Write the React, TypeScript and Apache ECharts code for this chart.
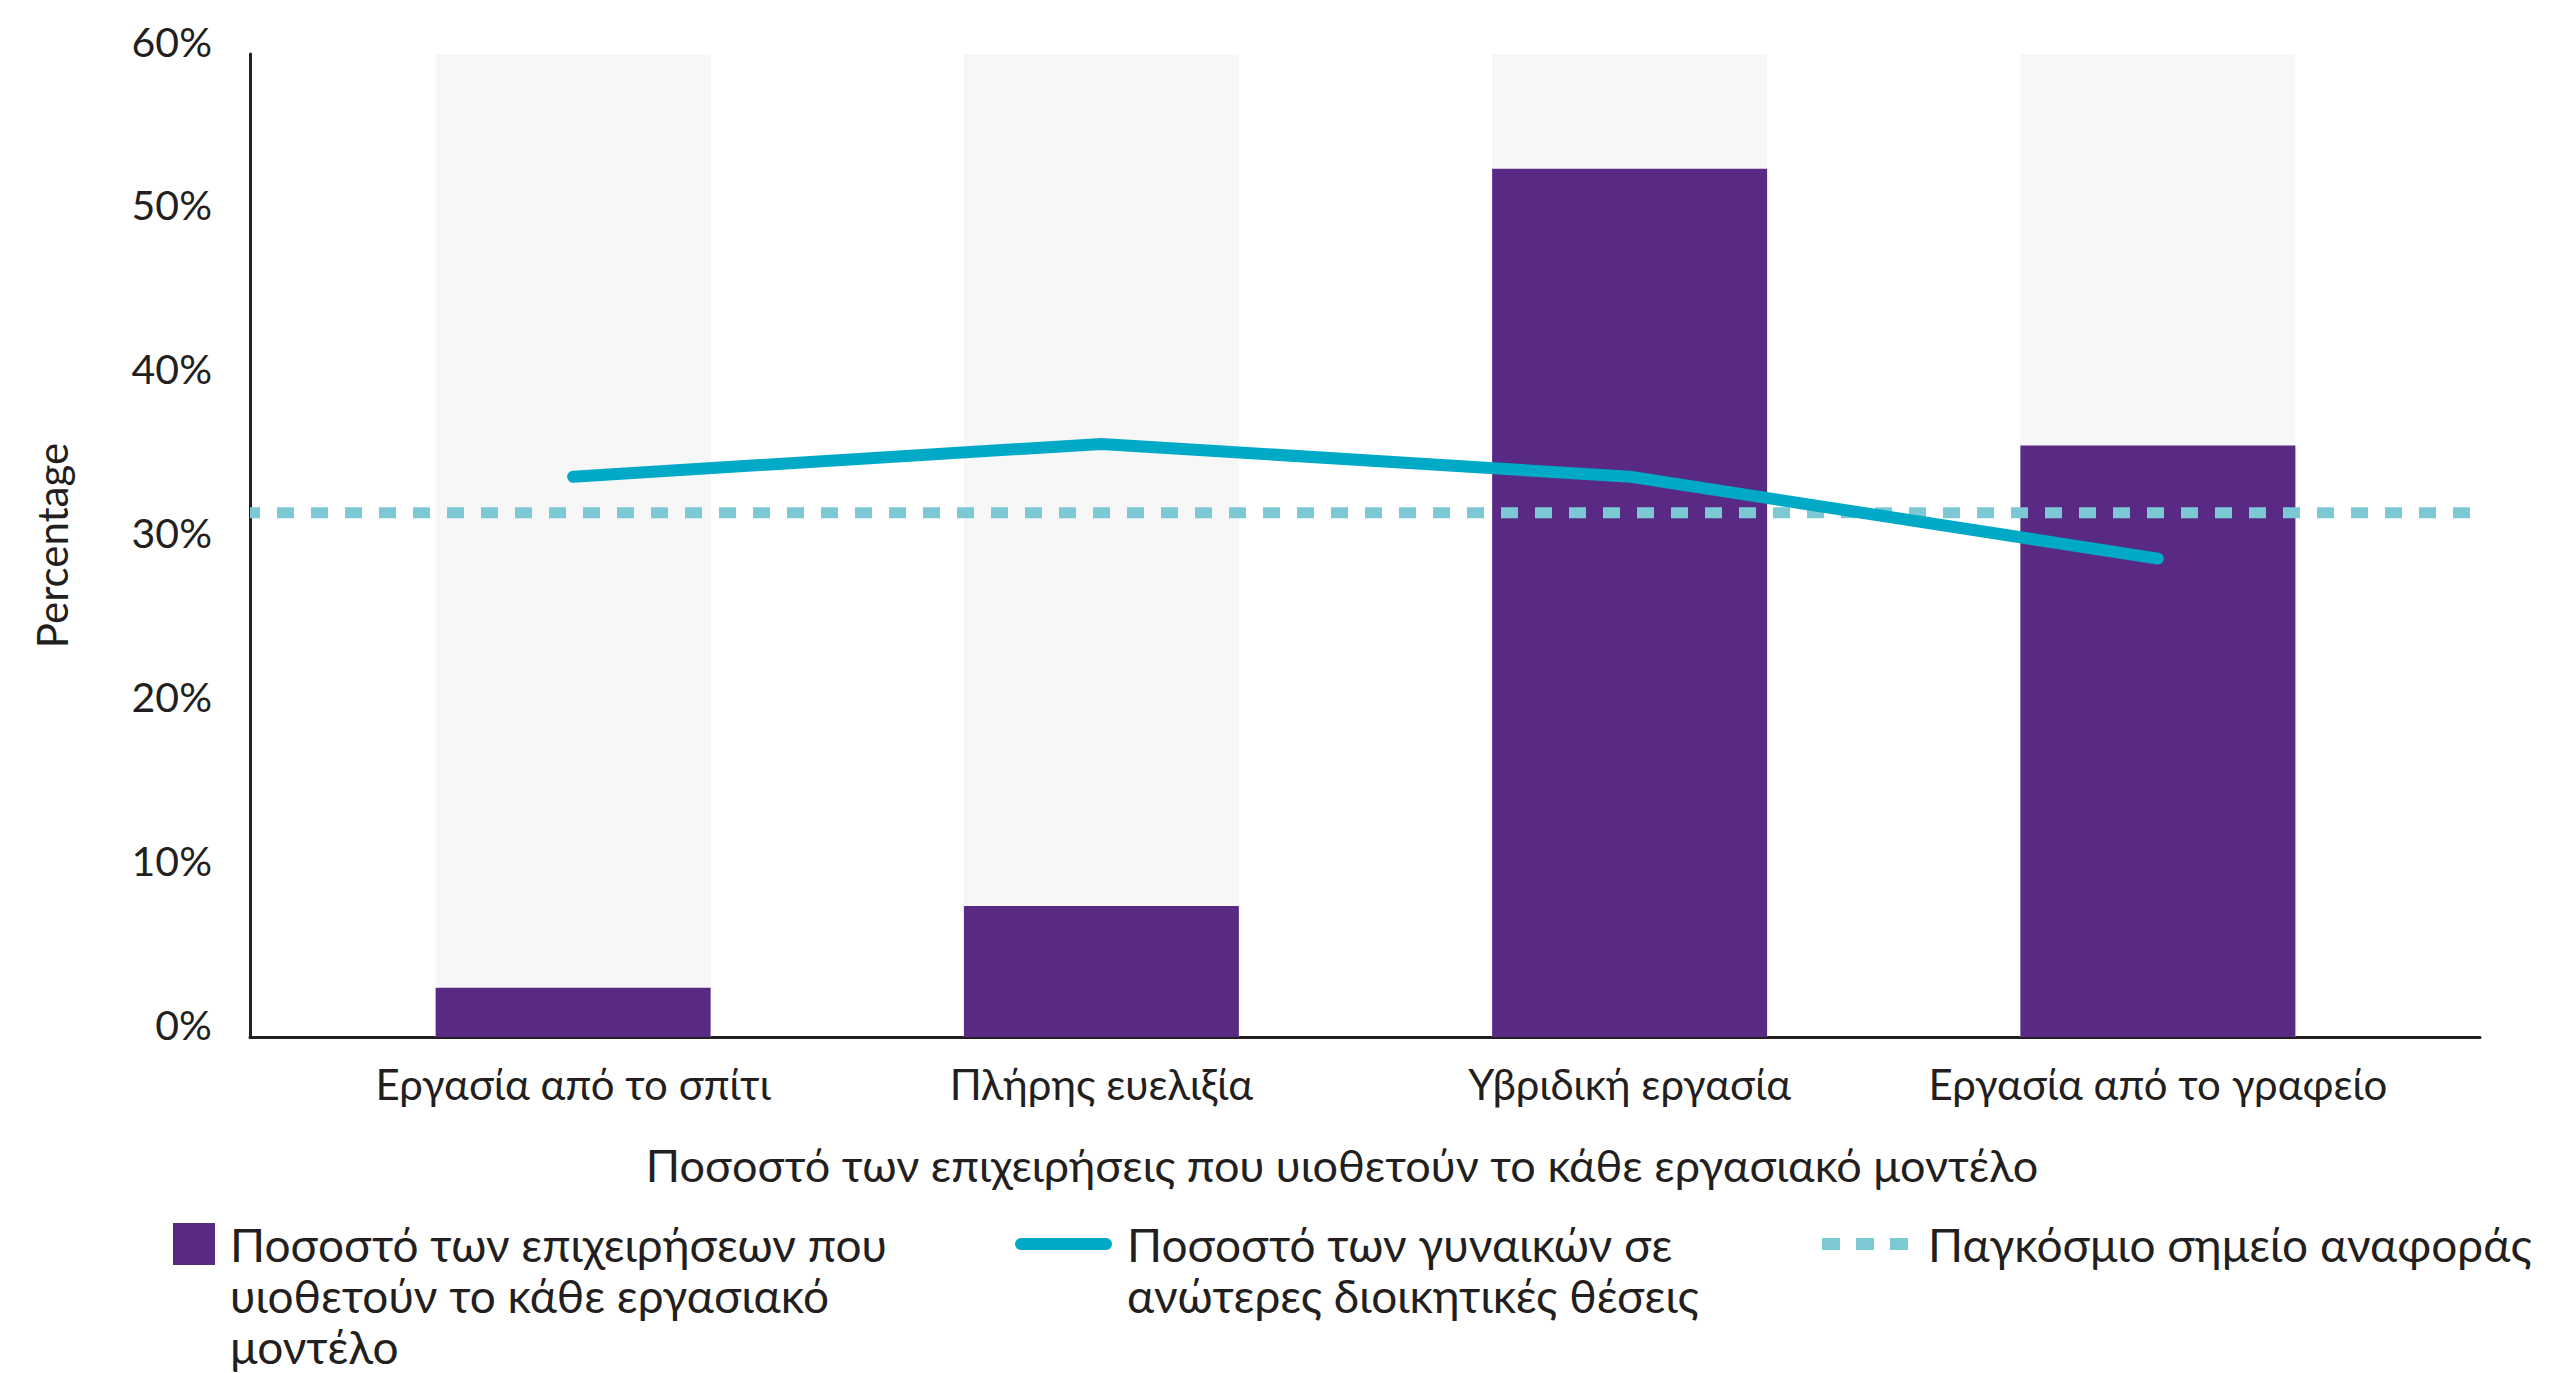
import React, { useEffect, useRef } from "react";
import * as echarts from "echarts";

// Working models (x categories)
const categories = [
  "Εργασία από το σπίτι",
  "Πλήρης ευελιξία",
  "Υβριδική εργασία",
  "Εργασία από το γραφείο",
];
// Share of companies adopting each model (%)
const adoptionShare = [3, 8, 53, 36.1];
// Share of women in senior management (%)
const womenInSeniorRoles = [34.2, 36.2, 34.2, 29.2];
// Global benchmark (%), spans the whole plot width
const benchmarkSpan = [0, 1];
const globalBenchmark = 32;
// Percentage axis
const yMin = 0;
const yMax = 60;
const yStep = 10;

const barName = "Ποσοστό των επιχειρήσεων που\nυιοθετούν το κάθε εργασιακό\nμοντέλο";
const lineName = "Ποσοστό των γυναικών σε\nανώτερες διοικητικές θέσεις";
const benchmarkName = "Παγκόσμιο σημείο αναφοράς";
const xTitle = "Ποσοστό των επιχειρήσεις που υιοθετούν το κάθε εργασιακό μοντέλο";
const yTitle = "Percentage";

const FONT = "Lato, 'Noto Sans', sans-serif";
const INK = "#231F20";
const PURPLE = "#582A84";
const TEAL = "#00A9C6";
const LIGHT_TEAL = "#7CC8D5";
const BG_BAR = "#F7F7F7";

// Legend labels are centred on their icon; leading blank lines push the
// first line of a wrapped label down so it sits level with the icon.
const alignFirstLine = (name: string) =>
  "\n".repeat(name.split("\n").length - 1) + name;

export default function App() {
  const ref = useRef<HTMLDivElement>(null);

  useEffect(() => {
    if (!ref.current) return;
    const chart = echarts.init(ref.current, undefined, { renderer: "svg" });

    const gridTop = 54;
    const gridBottom = 336;

    const legendText = (padLeft: number) => ({
      fontFamily: FONT,
      fontSize: 46,
      lineHeight: 51,
      color: INK,
      padding: [0, 0, 0, padLeft],
    });

    chart.setOption({
      animation: false,
      backgroundColor: "#FFFFFF",
      textStyle: { fontFamily: FONT, color: INK },
      grid: [
        // frame grid: axis lines, percentage labels, benchmark line
        { left: 250, right: 70, top: gridTop, bottom: gridBottom },
        // bar grid: inset so bars sit with the outer margins of the frame
        { left: 309, right: 128, top: gridTop, bottom: gridBottom },
      ],
      xAxis: [
        {
          type: "value",
          gridIndex: 0,
          min: benchmarkSpan[0],
          max: benchmarkSpan[1],
          axisLine: { show: true, lineStyle: { color: INK, width: 3 } },
          axisTick: { show: false },
          axisLabel: { show: false },
          splitLine: { show: false },
          name: xTitle,
          nameLocation: "middle",
          nameGap: 105,
          nameTextStyle: {
            fontFamily: FONT,
            fontSize: 45,
            color: INK,
            padding: [0, 46, 0, 0],
          },
        },
        {
          type: "category",
          gridIndex: 1,
          data: categories,
          axisLine: { show: false },
          axisTick: { show: false },
          axisLabel: {
            fontFamily: FONT,
            fontSize: 42,
            color: INK,
            margin: 26,
            interval: 0,
          },
        },
      ],
      yAxis: [
        {
          type: "value",
          gridIndex: 0,
          min: yMin,
          max: yMax,
          interval: yStep,
          axisLine: { show: true, lineStyle: { color: INK, width: 3 } },
          axisTick: { show: false },
          splitLine: { show: false },
          axisLabel: {
            fontFamily: FONT,
            fontSize: 41,
            color: INK,
            margin: 38,
            verticalAlign: "bottom",
            lineHeight: 26,
            formatter: "{value}%",
          },
          name: yTitle,
          nameLocation: "middle",
          nameRotate: 90,
          nameGap: 177,
          nameTextStyle: { fontFamily: FONT, fontSize: 42, color: INK },
        },
        {
          type: "value",
          gridIndex: 1,
          min: yMin,
          max: yMax,
          interval: yStep,
          show: false,
        },
      ],
      legend: [
        {
          data: [barName],
          formatter: alignFirstLine,
          left: 173,
          top: 1116.5,
          padding: 0,
          icon: "rect",
          itemWidth: 42,
          itemHeight: 42,
          itemStyle: { borderWidth: 0 },
          textStyle: legendText(10),
          selectedMode: false,
        },
        {
          data: [lineName],
          formatter: alignFirstLine,
          left: 1015,
          top: 1167.5,
          padding: 0,
          icon: "path://M6 0H91A6 6 0 0 1 91 12H6A6 6 0 0 1 6 0Z",
          itemWidth: 97,
          itemHeight: 12,
          itemStyle: { borderWidth: 0 },
          textStyle: legendText(10),
          selectedMode: false,
        },
        {
          data: [benchmarkName],
          left: 1822,
          top: 1218.5,
          padding: 0,
          icon: "path://M0 0H18V12H0Z M34 0H52V12H34Z M68 0H86V12H68Z",
          itemWidth: 86,
          itemHeight: 12,
          itemStyle: { borderWidth: 0 },
          textStyle: legendText(15),
          selectedMode: false,
        },
      ],
      series: [
        {
          name: barName,
          type: "bar",
          xAxisIndex: 1,
          yAxisIndex: 1,
          data: adoptionShare,
          barWidth: 275,
          itemStyle: { color: PURPLE },
          showBackground: true,
          backgroundStyle: { color: BG_BAR },
          z: 1,
        },
        {
          name: benchmarkName,
          type: "line",
          xAxisIndex: 0,
          yAxisIndex: 0,
          data: benchmarkSpan.map((x) => [x, globalBenchmark]),
          symbol: "none",
          itemStyle: { color: LIGHT_TEAL },
          lineStyle: {
            color: LIGHT_TEAL,
            width: 11,
            type: [17, 17],
            dashOffset: 7,
            cap: "butt",
          },
          z: 3,
        },
        {
          name: lineName,
          type: "line",
          xAxisIndex: 1,
          yAxisIndex: 1,
          data: womenInSeniorRoles,
          symbol: "none",
          itemStyle: { color: TEAL },
          lineStyle: { color: TEAL, width: 12, cap: "round", join: "round" },
          z: 4,
        },
      ],
    });

    return () => chart.dispose();
  }, []);

  return (
    <div
      ref={ref}
      style={{ position: "fixed", left: 0, top: 0, width: 2550, height: 1373 }}
    />
  );
}
